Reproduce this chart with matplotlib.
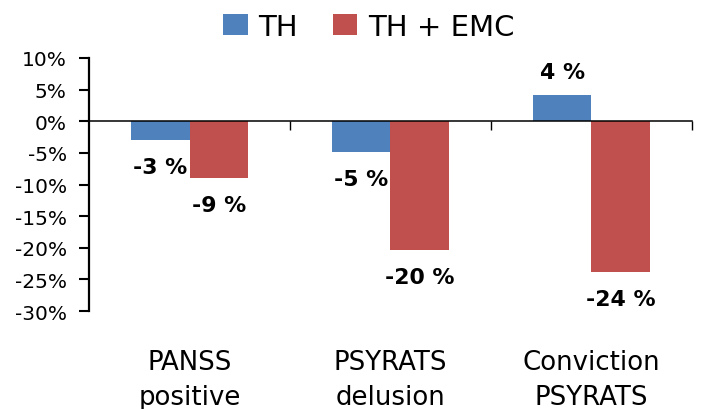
import matplotlib
matplotlib.use("Agg")
import matplotlib.pyplot as plt
import matplotlib.transforms as mtransforms
import numpy as np

categories_line1 = ["PANSS", "PSYRATS", "Conviction"]
categories_line2 = ["positive", "delusion", "PSYRATS"]
series_names = ["TH", "TH + EMC"]
th_values = [-2.9, -4.9, 4.1]
emc_values = [-8.9, -20.3, -23.8]
th_labels = ["-3 %", "-5 %", "4 %"]
emc_labels = ["-9 %", "-20 %", "-24 %"]
yticks = [10, 5, 0, -5, -10, -15, -20, -25, -30]

blue = "#4F81BD"
red = "#C0504D"

fig = plt.figure(figsize=(7.02, 4.10), dpi=100)
ax = fig.add_axes([89/702, 1-312/410, (692-89)/702, (312-59)/410])

x = np.arange(len(categories_line1))
w = 0.29
b1 = ax.bar(x - w/2, th_values, w, color=blue, label=series_names[0], zorder=2)
b2 = ax.bar(x + w/2, emc_values, w, color=red, label=series_names[1], zorder=2)

ax.set_xlim(-0.5, 2.5)
ax.set_ylim(-30, 10)
ax.set_yticks(yticks)
ax.set_yticklabels([f"{v}%" for v in yticks], fontsize=14.5, family="DejaVu Sans")
ax.tick_params(axis="y", direction="out", length=7, width=1.5, pad=9)

ax.set_xticks([0.5, 1.5, 2.5])
ax.set_xticklabels([])
ax.tick_params(axis="x", direction="out", length=6.5, width=1.0)

for s in ["top", "right"]:
    ax.spines[s].set_visible(False)
ax.spines["left"].set_linewidth(1.6)
ax.spines["bottom"].set_position(("data", 0))
ax.spines["bottom"].set_linewidth(1.1)
ax.spines["bottom"].set_zorder(3)

def label_bars(bars, vals, labels):
    for rect, v, lab in zip(bars, vals, labels):
        cx = rect.get_x() + rect.get_width()/2
        off = 17 if v > 0 else -19.5
        ax.annotate(lab, (cx, v), xytext=(0, off), textcoords="offset points",
                    ha="center", va="center", fontsize=15.8, fontweight="bold",
                    family="DejaVu Sans", annotation_clip=False)

label_bars(b1, th_values, th_labels)
label_bars(b2, emc_values, emc_labels)

trans = mtransforms.blended_transform_factory(ax.transData, fig.transFigure)
for xi, l1, l2 in zip(x, categories_line1, categories_line2):
    ax.text(xi, 1-370/410, l1, transform=trans, ha="center", va="baseline",
            fontsize=18.7, family="DejaVu Sans")
    ax.text(xi, 1-405/410, l2, transform=trans, ha="center", va="baseline",
            fontsize=18.7, family="DejaVu Sans")

fig.legend(handles=[b1, b2], labels=series_names, loc="center",
           bbox_to_anchor=(369/702, 1-28/410), ncol=2, frameon=False,
           fontsize=21, handlelength=0.83, handleheight=0.73,
           handletextpad=0.37, columnspacing=1.2, borderpad=0)

fig.savefig("out.png", dpi=100)
